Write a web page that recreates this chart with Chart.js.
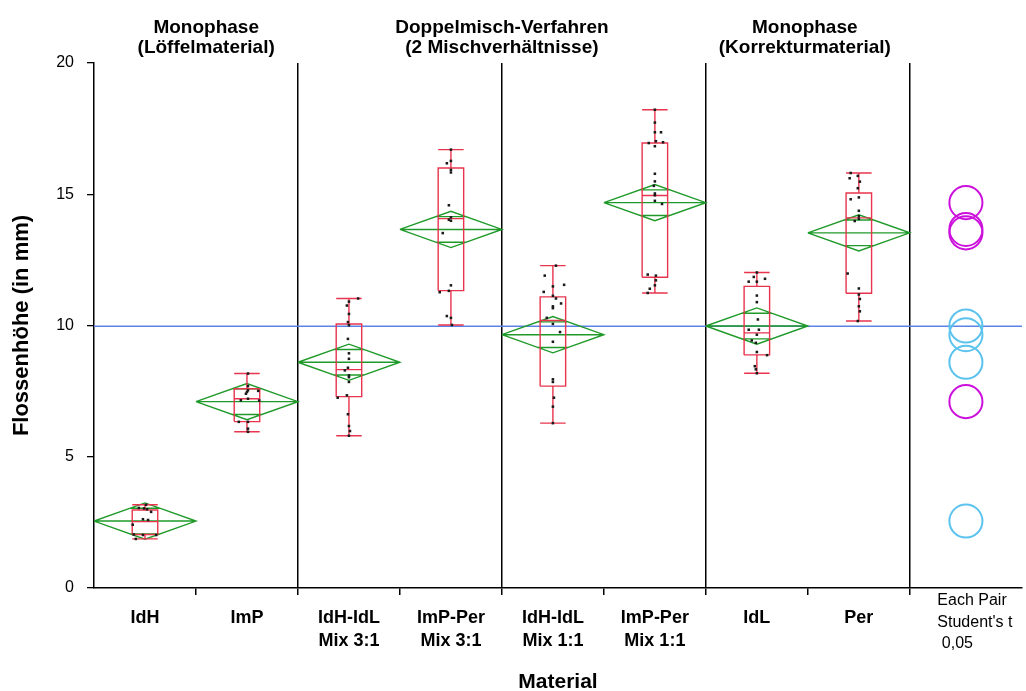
<!DOCTYPE html>
<html>
<head>
<meta charset="utf-8">
<script src="https://cdn.jsdelivr.net/npm/chart.js@4.4.1/dist/chart.umd.min.js"></script>
<style>
  html, body { margin: 0; padding: 0; background: #ffffff; }
  #wrap { width: 1026px; height: 691px; }
</style>
</head>
<body>
<div id="wrap"><canvas id="c" width="1026" height="691"></canvas></div>
<script>
// ---- Categories and group headings ----
const categories = [
  ['IdH'], ['ImP'], ['IdH-IdL', 'Mix 3:1'], ['ImP-Per', 'Mix 3:1'],
  ['IdH-IdL', 'Mix 1:1'], ['ImP-Per', 'Mix 1:1'], ['IdL'], ['Per']
];
const groupTitles = [
  ['Monophase', '(Löffelmaterial)'],
  ['Doppelmisch-Verfahren', '(2 Mischverhältnisse)'],
  ['Monophase', '(Korrekturmaterial)']
];
const compareCaption = ['Each Pair', "Student's t", ' 0,05'];
const yTicks = [0, 5, 10, 15, 20];

// ---- Group means (ANOVA) and 95% interval half-width ----
const groupMeans = [2.55, 7.10, 8.60, 13.66, 9.65, 14.68, 9.98, 13.53];
const ciHalf = 0.69;
const grandMean = 9.97;

// ---- Quantiles: min, q1, median, q3, max ----
const qMin = [1.87, 5.95, 5.80, 10.02, 6.28, 11.24, 8.18, 10.17];
const q1   = [2.04, 6.34, 7.29, 11.33, 7.69, 11.84, 8.88, 11.23];
const qMed = [2.53, 7.21, 8.32, 14.07, 10.19, 14.95, 9.72, 14.10];
const q3   = [2.97, 7.59, 10.06, 16.00, 11.09, 16.95, 11.49, 15.05];
const qMax = [3.17, 8.17, 11.03, 16.70, 12.28, 18.22, 12.02, 15.81];

// ---- Raw measurements (mm) with their horizontal jitter ----
const valIdH = [3.17, 3.05, 3.03, 3.00, 2.90, 2.62, 2.59, 2.41, 2.04, 2.02, 2.02, 1.87];
const jitIdH = [0.01, -0.06, -0.01, 0.02, 0.06, -0.02, 0.03, -0.12, -0.11, -0.02, 0.11, -0.09];
const valImP = [8.17, 7.69, 7.53, 7.47, 7.40, 7.51, 7.15, 7.21, 7.14, 6.33, 6.33, 6.07, 5.95];
const jitImP = [0.01, 0.01, 0.01, 0, -0.01, 0.11, -0.06, 0.01, 0.12, -0.08, 0.01, 0.01, 0.01];
const valMixA31 = [11.03, 10.91, 10.76, 10.44, 10.13, 10.01, 9.49, 8.94, 8.73, 8.39, 8.29, 8.10, 8.03, 7.85, 7.34, 7.25, 6.62, 6.17, 5.98, 5.80];
const jitMixA31 = [0.09, 0, -0.02, 0, -0.01, 0, -0.01, 0, 0, -0.01, -0.04, 0, 0, 0, -0.02, -0.11, -0.01, 0, 0.01, 0];
const valMixB31 = [16.70, 16.27, 16.18, 15.93, 15.83, 14.58, 14.12, 14.03, 13.99, 13.52, 11.53, 11.27, 11.32, 10.36, 10.29, 10.02];
const jitMixB31 = [0, 0, -0.04, 0, 0, -0.02, 0, -0.02, 0, -0.08, 0, -0.11, -0.02, -0.04, 0, 0.01];
const valMixA11 = [12.28, 11.90, 11.49, 11.55, 11.28, 11.13, 11.03, 10.84, 10.73, 10.66, 10.29, 10.06, 9.75, 9.38, 7.95, 7.85, 7.25, 6.91, 6.28];
const jitMixA11 = [0.03, -0.08, 0, 0.11, -0.09, 0, 0.03, 0.08, 0, 0, -0.06, 0, 0.07, 0, 0, 0, 0.01, 0, 0];
const valMixB11 = [18.22, 17.73, 17.36, 17.36, 16.95, 17.02, 16.98, 16.83, 15.78, 15.49, 15.32, 15.03, 14.96, 14.75, 14.63, 11.94, 11.90, 11.72, 11.53, 11.40, 11.24];
const jitMixB11 = [0, 0, 0, 0.06, -0.06, 0.01, 0.08, 0, 0, 0, -0.01, 0, 0, 0, 0.07, -0.07, 0.01, 0.01, 0, -0.05, -0.07];
const valIdL = [12.02, 11.85, 11.78, 11.67, 11.67, 11.14, 10.89, 10.23, 9.84, 9.84, 9.65, 9.43, 9.34, 8.99, 8.87, 8.45, 8.33, 8.18];
const jitIdL = [0, -0.03, 0.08, -0.08, 0, 0, 0, 0.01, -0.08, 0.02, 0, -0.05, -0.01, 0, 0.10, -0.02, -0.01, 0];
const valPer = [15.81, 15.70, 15.61, 15.48, 15.23, 14.81, 14.88, 14.37, 14.16, 14.06, 13.98, 11.98, 11.41, 11.18, 11.01, 10.73, 10.54, 10.17];
const jitPer = [-0.08, -0.01, -0.09, 0.01, -0.01, -0.08, 0, 0, 0, 0, -0.04, -0.11, 0, 0, 0.01, 0, 0.01, -0.01];

// ---- Comparison circles (Each Pair, Student's t, alpha 0.05) ----
const circleRadius = 0.63;
const circleMagenta = [14.68, 13.66, 13.53, 7.10];
const circleCyan = [9.98, 9.65, 8.60, 2.55];

// ---------------------------------------------------------------
const FONT = '"Liberation Sans", Arial, Helvetica, sans-serif';
const X_MIN = 0.5, X_MAX = 9.6, CIRCLE_X = 9.05;
const BOX_HALF = 0.125;
const separators = [2.5, 4.5, 6.5, 8.5];
const boundaries = [1.5, 2.5, 3.5, 4.5, 5.5, 6.5, 7.5, 8.5];

const gap = (x) => ({ x: x, y: null });

// Box plots: box, median, whiskers and caps
const boxData = [];
categories.forEach((_, i) => {
  const x = i + 1;
  boxData.push({x: x - BOX_HALF, y: q1[i]}, {x: x + BOX_HALF, y: q1[i]},
               {x: x + BOX_HALF, y: q3[i]}, {x: x - BOX_HALF, y: q3[i]},
               {x: x - BOX_HALF, y: q1[i]}, gap(x));
  boxData.push({x: x - BOX_HALF, y: qMed[i]}, {x: x + BOX_HALF, y: qMed[i]}, gap(x));
  boxData.push({x: x, y: q3[i]}, {x: x, y: qMax[i]}, gap(x));
  boxData.push({x: x, y: q1[i]}, {x: x, y: qMin[i]}, gap(x));
  boxData.push({x: x - BOX_HALF, y: qMax[i]}, {x: x + BOX_HALF, y: qMax[i]}, gap(x));
  boxData.push({x: x - BOX_HALF, y: qMin[i]}, {x: x + BOX_HALF, y: qMin[i]}, gap(x));
});

// Means diamonds with mean line and overlap marks
const diamondData = [];
const overlapOff = ciHalf / Math.SQRT2;
const overlapHalfW = 0.5 * (1 - 1 / Math.SQRT2);
groupMeans.forEach((m, i) => {
  const x = i + 1;
  diamondData.push({x: x - 0.5, y: m}, {x: x, y: m + ciHalf}, {x: x + 0.5, y: m},
                   {x: x, y: m - ciHalf}, {x: x - 0.5, y: m}, gap(x));
  diamondData.push({x: x - 0.5, y: m}, {x: x + 0.5, y: m}, gap(x));
  diamondData.push({x: x - overlapHalfW, y: m + overlapOff}, {x: x + overlapHalfW, y: m + overlapOff}, gap(x));
  diamondData.push({x: x - overlapHalfW, y: m - overlapOff}, {x: x + overlapHalfW, y: m - overlapOff}, gap(x));
});

// Individual measurements
const rawGroups = [
  [valIdH, jitIdH], [valImP, jitImP], [valMixA31, jitMixA31], [valMixB31, jitMixB31],
  [valMixA11, jitMixA11], [valMixB11, jitMixB11], [valIdL, jitIdL], [valPer, jitPer]
];
const pointData = [];
rawGroups.forEach(([vals, jit], i) => {
  vals.forEach((v, k) => pointData.push({x: i + 1 + jit[k], y: v}));
});

const radiusPx = (ctx) => {
  const ys = ctx.chart.scales.y;
  return Math.abs(ys.getPixelForValue(0) - ys.getPixelForValue(circleRadius));
};

// Headings above the plot and the caption under the circles column
const annotations = {
  id: 'annotations',
  afterDraw(chart) {
    const {ctx, scales: {x}, chartArea} = chart;
    ctx.save();
    ctx.fillStyle = '#000';
    ctx.textAlign = 'center';
    ctx.textBaseline = 'alphabetic';
    ctx.font = 'bold 19px ' + FONT;
    const headX = [1.6, 4.5, 7.47];
    groupTitles.forEach((lines, g) => {
      const px = x.getPixelForValue(headX[g]);
      ctx.fillText(lines[0], px, chartArea.top - 30);
      ctx.fillText(lines[1], px, chartArea.top - 10);
    });
    ctx.textAlign = 'left';
    ctx.textBaseline = 'middle';
    ctx.font = '16px ' + FONT;
    const cx = x.getPixelForValue(8.77);
    compareCaption.forEach((t, k) => {
      ctx.fillText(t, cx, chartArea.bottom + 13 + k * 21.5);
    });
    ctx.restore();
  }
};

new Chart(document.getElementById('c'), {
  type: 'scatter',
  data: {
    datasets: [
      { label: 'Messwerte', data: pointData, order: 0,
        pointStyle: 'rect', pointRadius: 1.8, pointBackgroundColor: '#1a1a1a', pointBorderWidth: 0 },
      { label: 'Quantile', data: boxData, order: 1, showLine: true, spanGaps: false,
        borderColor: '#e8344e', borderWidth: 1.4, pointRadius: 0 },
      { label: 'Mittelwert-Rauten', data: diamondData, order: 2, showLine: true, spanGaps: false,
        borderColor: '#1f9a2a', borderWidth: 1.4, pointRadius: 0 },
      { label: 'Gesamtmittel', data: [{x: X_MIN, y: grandMean}, {x: X_MAX, y: grandMean}], order: 3,
        showLine: true, borderColor: '#5b82e6', borderWidth: 1.4, pointRadius: 0 },
      { label: 'Kreise A', data: circleMagenta.map(v => ({x: CIRCLE_X, y: v})), order: 1,
        pointStyle: 'circle', pointRadius: radiusPx, pointBorderColor: '#cc11dd',
        pointBackgroundColor: 'rgba(0,0,0,0)', pointBorderWidth: 2 },
      { label: 'Kreise B', data: circleCyan.map(v => ({x: CIRCLE_X, y: v})), order: 1,
        pointStyle: 'circle', pointRadius: radiusPx, pointBorderColor: '#5cc3ee',
        pointBackgroundColor: 'rgba(0,0,0,0)', pointBorderWidth: 2 }
    ]
  },
  options: {
    responsive: false,
    animation: false,
    events: [],
    layout: { padding: { top: 63, left: 0, right: 0, bottom: 0 } },
    plugins: { legend: { display: false }, tooltip: { enabled: false } },
    scales: {
      y: {
        min: 0, max: 20,
        afterBuildTicks: (s) => { s.ticks = yTicks.map(v => ({value: v})); },
        afterFit: (s) => { s.width = 94; },
        border: { display: true, color: '#000', width: 1.5 },
        grid: { display: true, drawOnChartArea: false, drawTicks: true, tickLength: 7, color: '#000', lineWidth: 1.3 },
        ticks: { color: '#000', padding: 13, font: { family: FONT, size: 16 } },
        title: { display: true, text: 'Flossenhöhe (in mm)', color: '#000',
                 padding: { top: 11, bottom: 0 }, font: { family: FONT, size: 22, weight: 'bold', lineHeight: 1 } }
      },
      x: {
        min: X_MIN, max: X_MAX, position: 'bottom', weight: 0,
        afterBuildTicks: (s) => { s.ticks = boundaries.map(v => ({value: v})); },
        afterFit: (s) => { s.height = 7; },
        border: { display: true, color: '#000', width: 1.5 },
        grid: {
          display: true, drawOnChartArea: true, drawTicks: true, tickLength: 7, lineWidth: 1.5,
          color: (c) => (c.tick && separators.includes(c.tick.value)) ? '#000' : 'rgba(0,0,0,0)',
          tickColor: '#000'
        },
        ticks: { display: false }
      },
      xc: {
        type: 'linear', min: X_MIN, max: X_MAX, position: 'bottom', weight: 1,
        afterBuildTicks: (s) => { s.ticks = categories.map((_, i) => ({value: i + 1})); },
        afterFit: (s) => { s.height = 96; },
        border: { display: false },
        grid: { display: false },
        ticks: {
          autoSkip: false, maxRotation: 0, minRotation: 0, padding: 3, color: '#000',
          font: { family: FONT, size: 18, weight: 'bold', lineHeight: 1.3 },
          callback: (v) => categories[Math.round(v) - 1] || ''
        },
        title: { display: true, text: 'Material', color: '#000', padding: { top: 0, bottom: 0 },
                 font: { family: FONT, size: 21, weight: 'bold', lineHeight: 0.8 } }
      }
    }
  },
  plugins: [annotations]
});
</script>
</body>
</html>
